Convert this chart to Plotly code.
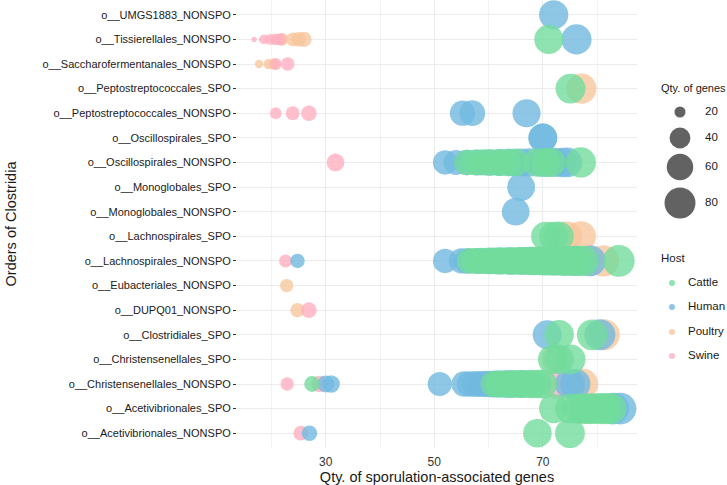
import plotly.graph_objects as go
import math

orders = [
    "o__Acetivibrionales_NONSPO", "o__Acetivibrionales_SPO",
    "o__Christensenellales_NONSPO", "o__Christensenellales_SPO",
    "o__Clostridiales_SPO", "o__DUPQ01_NONSPO", "o__Eubacteriales_NONSPO",
    "o__Lachnospirales_NONSPO", "o__Lachnospirales_SPO",
    "o__Monoglobales_NONSPO", "o__Monoglobales_SPO",
    "o__Oscillospirales_NONSPO", "o__Oscillospirales_SPO",
    "o__Peptostreptococcales_NONSPO", "o__Peptostreptococcales_SPO",
    "o__Saccharofermentanales_NONSPO", "o__Tissierellales_NONSPO",
    "o__UMGS1883_NONSPO",
]

# Poultry
poultry_orders = (["o__Tissierellales_NONSPO"] * 4 + ["o__Saccharofermentanales_NONSPO"] * 3
                  + ["o__Peptostreptococcales_SPO"] + ["o__Lachnospirales_SPO"] * 2
                  + ["o__Lachnospirales_NONSPO"] * 3 + ["o__Eubacteriales_NONSPO"]
                  + ["o__DUPQ01_NONSPO"] + ["o__Clostridiales_SPO"]
                  + ["o__Christensenellales_SPO"] + ["o__Christensenellales_NONSPO"])
poultry_genes = [22, 24, 25, 26, 17.7, 19.5, 20.5, 77.1, 74.5, 77, 75, 78.5, 81.2,
                 22.8, 24.8, 81.3, 72.5, 77.4]

# Swine
swine_orders = (["o__Tissierellales_NONSPO"] * 5 + ["o__Saccharofermentanales_NONSPO"] * 2
                + ["o__Peptostreptococcales_NONSPO"] * 3 + ["o__Oscillospirales_NONSPO"]
                + ["o__Lachnospirales_NONSPO"] + ["o__DUPQ01_NONSPO"]
                + ["o__Christensenellales_NONSPO"] * 3 + ["o__Acetivibrionales_SPO"]
                + ["o__Acetivibrionales_NONSPO"])
swine_genes = [16.8, 18.6, 19.8, 20.8, 21.6, 20.8, 23, 20.8, 23.9, 26.9, 31.8,
               22.6, 26.9, 22.9, 28.8, 72.5, 78, 25.4]

# Human
human_orders = (["o__UMGS1883_NONSPO"] + ["o__Tissierellales_NONSPO"]
                + ["o__Peptostreptococcales_NONSPO"] * 3 + ["o__Oscillospirales_SPO"] * 2
                + ["o__Oscillospirales_NONSPO"] * 13 + ["o__Monoglobales_SPO"]
                + ["o__Monoglobales_NONSPO"] + ["o__Lachnospirales_NONSPO"] * 15
                + ["o__Clostridiales_SPO"] * 2 + ["o__Christensenellales_NONSPO"] * 16
                + ["o__Acetivibrionales_SPO"] * 2 + ["o__Acetivibrionales_NONSPO"])
human_genes = ([72, 76.2, 55.2, 57, 67, 70, 70]
               + [52, 54, 56, 58, 60, 62, 64, 66, 67.5, 70, 72, 73.5, 74.5]
               + [66, 65]
               + [24.8, 52, 55, 56, 58, 60, 62, 64, 66, 68, 70, 72, 74, 76, 78.8]
               + [70.8, 80.5]
               + [30, 31, 51, 55.5, 56.5, 57.5, 58.5, 59.5, 60.5, 61.5, 62.5, 63.5,
                  64.5, 66, 75, 76]
               + [83, 84.3, 27])

# Cattle
cattle_orders = (["o__Tissierellales_NONSPO"] + ["o__Peptostreptococcales_SPO"]
                 + ["o__Oscillospirales_NONSPO"] * 11 + ["o__Lachnospirales_SPO"] * 3
                 + ["o__Lachnospirales_NONSPO"] * 23 + ["o__Clostridiales_SPO"] * 2
                 + ["o__Christensenellales_SPO"] * 3 + ["o__Christensenellales_NONSPO"] * 11
                 + ["o__Acetivibrionales_SPO"] * 9 + ["o__Acetivibrionales_NONSPO"] * 2)
cattle_genes = ([71.1, 75.1]
                + [56, 57.5, 59, 60.5, 62, 63.5, 65, 69, 70.5, 71.5, 77]
                + [70.5, 72, 73]
                + [56.5, 57.5, 58.5, 59.5, 60.5, 61.5, 62.5, 63.5, 64.5, 65.5, 66.5,
                   67.5, 68.5, 69.5, 70.5, 71.5, 72.5, 73.5, 74.5, 75.5, 76.5, 77.5, 84]
                + [73, 79.1]
                + [71.8, 73, 75.1]
                + [27.5, 61, 62, 63, 64, 65, 66, 67, 68, 69, 70]
                + [72, 75, 76.5, 77.5, 78.5, 79.5, 80.5, 81.5, 82.5]
                + [69, 75])

size_breaks = [20, 40, 60, 80]
hosts = ["Cattle", "Human", "Poultry", "Swine"]
host_colors = {"Cattle": "#72DC9C", "Human": "#72B9E0", "Poultry": "#F8C79E", "Swine": "#FFAFBF"}
x_ticks = [30, 50, 70]
x_minor = [20, 40, 60, 80]

all_vals = poultry_genes + swine_genes + human_genes + cattle_genes
vmin, vmax = min(all_vals), max(all_vals)


def diam(v):
    r = min(max((v - vmin) / (vmax - vmin), 0), 1)
    return 5.3 * (1 + 5 * math.sqrt(r))


FONT = "Liberation Sans, Arial, sans-serif"
TXT = "#1a1a1a"
fig = go.Figure()

series = [("Poultry", poultry_orders, poultry_genes), ("Swine", swine_orders, swine_genes),
          ("Human", human_orders, human_genes), ("Cattle", cattle_orders, cattle_genes)]
for name, cats, vals in series:
    fig.add_trace(go.Scatter(
        x=vals, y=cats, mode="markers", name=name, showlegend=False,
        marker=dict(size=[diam(v) for v in vals], sizemode="diameter",
                    color=host_colors[name], opacity=0.8, line=dict(width=0)),
        xaxis="x", yaxis="y"))

# legend panel (pixel-like coordinates)
size_y = [112, 138, 167, 203]
fig.add_trace(go.Scatter(
    x=[43] * len(size_breaks), y=size_y, mode="markers",
    marker=dict(size=[diam(v) for v in size_breaks], color="#1f1f1f", line=dict(width=0)),
    showlegend=False, hoverinfo="skip", xaxis="x2", yaxis="y2"))
fig.add_trace(go.Scatter(
    x=[68] * len(size_breaks), y=size_y, mode="text",
    text=[str(v) for v in size_breaks], textposition="middle right",
    textfont=dict(family=FONT, size=11.5, color=TXT), cliponaxis=False,
    showlegend=False, hoverinfo="skip", xaxis="x2", yaxis="y2"))
host_y = [283, 307, 332, 356]
fig.add_trace(go.Scatter(
    x=[35] * len(hosts), y=host_y, mode="markers",
    marker=dict(size=6, color=[host_colors[h] for h in hosts], opacity=0.8, line=dict(width=0)),
    showlegend=False, hoverinfo="skip", xaxis="x2", yaxis="y2"))
fig.add_trace(go.Scatter(
    x=[51] * len(hosts), y=host_y, mode="text",
    text=hosts, textposition="middle right",
    textfont=dict(family=FONT, size=11.5, color=TXT), cliponaxis=False,
    showlegend=False, hoverinfo="skip", xaxis="x2", yaxis="y2"))

fig.add_annotation(text="Qty. of genes", x=22, y=88, xref="x2", yref="y2", showarrow=False,
                   xanchor="left", yanchor="middle", font=dict(family=FONT, size=11, color=TXT))
fig.add_annotation(text="Host", x=22, y=258, xref="x2", yref="y2", showarrow=False,
                   xanchor="left", yanchor="middle", font=dict(family=FONT, size=11.5, color=TXT))

W, H = 727, 485
L, B, T = 237, 37, 0
panel_right = 637
dom = (panel_right - L) / (W - L)

fig.update_layout(
    width=W, height=H,
    margin=dict(l=L, r=0, t=T, b=B),
    plot_bgcolor="white", paper_bgcolor="white",
    font=dict(family=FONT, color=TXT),
    xaxis=dict(domain=[0, dom], range=[13.65, 87.35], tickvals=x_ticks,
               showgrid=True, gridcolor="#EBEBEB", gridwidth=1, zeroline=False,
               showline=False, ticks="", ticklabelstandoff=5,
               tickfont=dict(family=FONT, size=12, color="#333"),
               minor=dict(tickvals=x_minor, showgrid=True, gridcolor="#F3F3F3", gridwidth=1),
               title=dict(text="Qty. of sporulation-associated genes", standoff=1,
                          font=dict(family=FONT, size=14.5, color=TXT))),
    yaxis=dict(type="category", categoryorder="array", categoryarray=orders,
               range=[-0.6, len(orders) - 0.4], showgrid=True, gridcolor="#EBEBEB",
               zeroline=False, showline=False, ticks="outside", ticklen=3, tickcolor="#333",
               tickfont=dict(family=FONT, size=11, color=TXT),
               title=dict(text="Orders of Clostridia", standoff=22,
                          font=dict(family=FONT, size=14.5, color=TXT))),
    xaxis2=dict(domain=[dom, 1], range=[0, W - panel_right], visible=False, fixedrange=True),
    yaxis2=dict(domain=[0, 1], range=[H - B - T, 0], visible=False, fixedrange=True, anchor="x2"),
)

fig.write_html("out.html")
